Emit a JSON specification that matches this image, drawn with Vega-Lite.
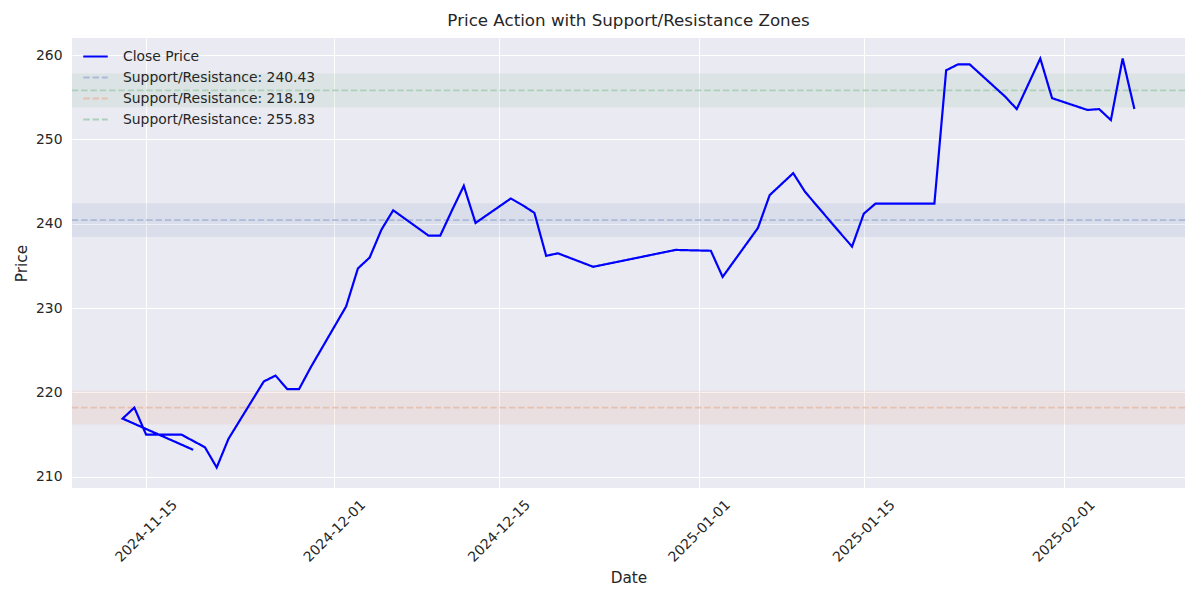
{
  "$schema": "https://vega.github.io/schema/vega-lite/v6.json",
  "width": 1113,
  "height": 450,
  "autosize": {"type": "none"},
  "padding": {"left": 72, "top": 38, "right": 15, "bottom": 112},
  "background": "#ffffff",
  "config": {
    "font": "DejaVu Sans",
    "view": {"fill": "#eaeaf2", "stroke": null},
    "axis": {
      "grid": true,
      "gridColor": "#ffffff",
      "gridWidth": 1,
      "domain": false,
      "ticks": false,
      "tickSize": 0,
      "labelFont": "DejaVu Sans",
      "labelFontSize": 13.9,
      "labelColor": "#262626",
      "titleFont": "DejaVu Sans",
      "titleFontSize": 15.3,
      "titleFontWeight": "normal",
      "titleColor": "#262626"
    },
    "legend": {
      "title": null,
      "orient": "none",
      "legendX": 10,
      "legendY": 5,
      "symbolType": "stroke",
      "symbolSize": 600,
      "symbolStrokeWidth": 2,
      "labelFontSize": 13.9,
      "labelColor": "#262626",
      "labelFont": "DejaVu Sans",
      "labelLimit": 0,
      "rowPadding": -9,
      "labelOffset": 14
    },
    "title": {"font": "DejaVu Sans", "fontSize": 16.7, "fontWeight": "normal", "color": "#262626", "offset": 8}
  },
  "title": {"text": "Price Action with Support/Resistance Zones", "anchor": "middle"},
  "datasets": {
    "prices": [
      {"date": "2024-11-19", "close": 213.2},
      {"date": "2024-11-13", "close": 216.9},
      {"date": "2024-11-14", "close": 218.2},
      {"date": "2024-11-15", "close": 215.0},
      {"date": "2024-11-18", "close": 215.0},
      {"date": "2024-11-20", "close": 213.5},
      {"date": "2024-11-21", "close": 211.1},
      {"date": "2024-11-22", "close": 214.5},
      {"date": "2024-11-25", "close": 221.3},
      {"date": "2024-11-26", "close": 222.0},
      {"date": "2024-11-27", "close": 220.4},
      {"date": "2024-11-28", "close": 220.4},
      {"date": "2024-11-29", "close": 223.0},
      {"date": "2024-12-02", "close": 230.2},
      {"date": "2024-12-03", "close": 234.7},
      {"date": "2024-12-04", "close": 236.0},
      {"date": "2024-12-05", "close": 239.3},
      {"date": "2024-12-06", "close": 241.6},
      {"date": "2024-12-09", "close": 238.6},
      {"date": "2024-12-10", "close": 238.6},
      {"date": "2024-12-11", "close": 241.6},
      {"date": "2024-12-12", "close": 244.5},
      {"date": "2024-12-13", "close": 240.1},
      {"date": "2024-12-16", "close": 243.0},
      {"date": "2024-12-17", "close": 242.2},
      {"date": "2024-12-18", "close": 241.3},
      {"date": "2024-12-19", "close": 236.2},
      {"date": "2024-12-20", "close": 236.5},
      {"date": "2024-12-23", "close": 234.9},
      {"date": "2024-12-30", "close": 236.9},
      {"date": "2025-01-02", "close": 236.8},
      {"date": "2025-01-03", "close": 233.7},
      {"date": "2025-01-06", "close": 239.5},
      {"date": "2025-01-07", "close": 243.4},
      {"date": "2025-01-08", "close": 244.7},
      {"date": "2025-01-09", "close": 246.0},
      {"date": "2025-01-10", "close": 243.8},
      {"date": "2025-01-13", "close": 238.9},
      {"date": "2025-01-14", "close": 237.3},
      {"date": "2025-01-15", "close": 241.2},
      {"date": "2025-01-16", "close": 242.4},
      {"date": "2025-01-17", "close": 242.4},
      {"date": "2025-01-21", "close": 242.4},
      {"date": "2025-01-22", "close": 258.2},
      {"date": "2025-01-23", "close": 258.9},
      {"date": "2025-01-24", "close": 258.9},
      {"date": "2025-01-27", "close": 255.1},
      {"date": "2025-01-28", "close": 253.6},
      {"date": "2025-01-29", "close": 256.6},
      {"date": "2025-01-30", "close": 259.6},
      {"date": "2025-01-31", "close": 254.9},
      {"date": "2025-02-03", "close": 253.5},
      {"date": "2025-02-04", "close": 253.6},
      {"date": "2025-02-05", "close": 252.3},
      {"date": "2025-02-06", "close": 259.6},
      {"date": "2025-02-07", "close": 253.6}
    ],
    "levels": [
      {"label": "Support/Resistance: 240.43", "zone": "a", "level": 240.43, "low": 238.43, "high": 242.43},
      {"label": "Support/Resistance: 218.19", "zone": "b", "level": 218.19, "low": 216.19, "high": 220.19},
      {"label": "Support/Resistance: 255.83", "zone": "c", "level": 255.83, "low": 253.83, "high": 257.83}
    ]
  },
  "layer": [
    {
      "data": {"name": "levels"},
      "mark": {"type": "rect", "fillOpacity": 0.1},
      "encoding": {
        "y": {"field": "high", "type": "quantitative"},
        "y2": {"field": "low"},
        "fill": {
          "field": "zone",
          "type": "nominal",
          "scale": {"domain": ["a", "b", "c"], "range": ["#4c72b0", "#dd8452", "#55a868"]},
          "legend": null
        }
      }
    },
    {
      "data": {"name": "levels"},
      "mark": {"type": "rule", "strokeWidth": 1.75},
      "encoding": {
        "y": {"field": "level", "type": "quantitative"},
        "stroke": {"field": "label", "type": "nominal", "title": null},
        "strokeDash": {"field": "label", "type": "nominal", "title": null}
      }
    },
    {
      "data": {"name": "prices"},
      "mark": {"type": "line", "strokeWidth": 2.2},
      "encoding": {
        "x": {
          "field": "date",
          "type": "temporal",
          "title": "Date",
          "scale": {
            "type": "utc",
            "domain": [
              {"year": 2024, "month": 11, "date": 8, "hours": 16, "minutes": 48, "utc": true},
              {"year": 2025, "month": 2, "date": 11, "hours": 7, "minutes": 12, "utc": true}
            ]
          },
          "axis": {
            "values": [
              {"year": 2024, "month": 11, "date": 15, "utc": true},
              {"year": 2024, "month": 12, "date": 1, "utc": true},
              {"year": 2024, "month": 12, "date": 15, "utc": true},
              {"year": 2025, "month": 1, "date": 1, "utc": true},
              {"year": 2025, "month": 1, "date": 15, "utc": true},
              {"year": 2025, "month": 2, "date": 1, "utc": true}
            ],
            "format": "%Y-%m-%d",
            "labelAngle": -45,
            "labelAlign": "center",
            "labelBaseline": "middle",
            "labelPadding": 43,
            "titlePadding": 6,
            "labelOverlap": false
          }
        },
        "y": {
          "field": "close",
          "type": "quantitative",
          "title": "Price",
          "scale": {"domain": [208.67, 262.03], "nice": false, "zero": false},
          "axis": {"values": [210, 220, 230, 240, 250, 260], "labelPadding": 10, "titlePadding": 6}
        },
        "order": {"value": null},
        "stroke": {
          "datum": "Close Price",
          "type": "nominal",
          "title": null,
          "scale": {
            "domain": ["Close Price", "Support/Resistance: 240.43", "Support/Resistance: 218.19", "Support/Resistance: 255.83"],
            "range": ["#0000ff", "#abbad8", "#e5c1b2", "#aed0bb"]
          }
        },
        "strokeDash": {
          "datum": "Close Price",
          "type": "nominal",
          "title": null,
          "scale": {
            "domain": ["Close Price", "Support/Resistance: 240.43", "Support/Resistance: 218.19", "Support/Resistance: 255.83"],
            "range": [[1, 0], [6.5, 2.8], [6.5, 2.8], [6.5, 2.8]]
          }
        }
      }
    }
  ]
}
